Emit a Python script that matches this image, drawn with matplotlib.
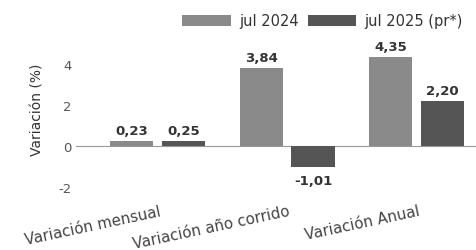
import numpy as np
import matplotlib
matplotlib.use('Agg')
import matplotlib.pyplot as plt

categories = ['Variación mensual', 'Variación año corrido', 'Variación Anual']
jul_2024 = [0.23, 3.84, 4.35]
jul_2025 = [0.25, -1.01, 2.20]
labels_2024 = ['0,23', '3,84', '4,35']
labels_2025 = ['0,25', '-1,01', '2,20']
series_names = ['jul 2024', 'jul 2025 (pr*)']
yticks = [-2, 0, 2, 4]

c_2024 = '#8a8a8a'
c_2025 = '#555555'

fig = plt.figure(figsize=(4.76, 2.51), dpi=100)
ax = fig.add_axes([0.16, 0.203, 0.84, 0.642])

x = np.arange(len(categories))
w = 0.335
off = 0.2
b1 = ax.bar(x - off, jul_2024, w, color=c_2024, label=series_names[0], zorder=3)
b2 = ax.bar(x + off, jul_2025, w, color=c_2025, label=series_names[1], zorder=3)

for bars, labs in ((b1, labels_2024), (b2, labels_2025)):
    for rect, lab in zip(bars, labs):
        h = rect.get_height()
        xc = rect.get_x() + rect.get_width() / 2
        if h >= 0:
            ax.annotate(lab, (xc, h), xytext=(0, 3), textcoords='offset points',
                        ha='center', va='bottom', fontsize=9.5, fontweight='bold', color='#333333')
        else:
            ax.annotate(lab, (xc, h), xytext=(0, -5), textcoords='offset points',
                        ha='center', va='top', fontsize=9.5, fontweight='bold', color='#333333')

ax.axhline(0, color='#999999', lw=0.8, zorder=1)
ax.set_xlim(-0.63, 2.46)
ax.set_ylim(-2.6, 5.3)
ax.set_yticks(yticks)
ax.set_yticklabels([str(t) for t in yticks])
ax.tick_params(axis='y', length=0, pad=3, labelsize=9.5, labelcolor='#555555')
ax.set_xticks(x + 0.01)
ax.set_xticklabels(categories, rotation=12, ha='right', va='top', rotation_mode='anchor',
                   fontsize=10.8, color='#444444')
ax.tick_params(axis='x', length=0, pad=3)
for s in ax.spines.values():
    s.set_visible(False)
ax.set_ylabel('Variación (%)', fontsize=10, color='#333333')
ax.yaxis.set_label_coords(-0.08, 0.56)

fig.legend(loc='upper right', bbox_to_anchor=(1.0, 0.995), ncol=2, frameon=False,
           fontsize=10.5, handlelength=3.3, handleheight=0.8, columnspacing=0.6,
           handletextpad=0.6, labelcolor='#333333')

fig.savefig('out.png', dpi=100, facecolor='white')
